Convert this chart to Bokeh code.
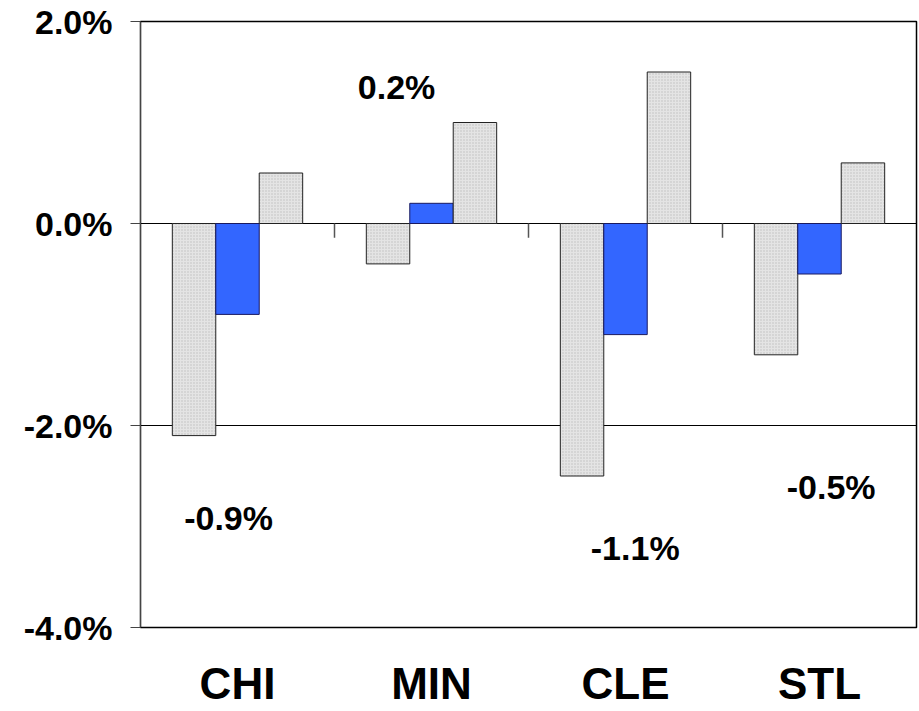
from bokeh.plotting import figure
from bokeh.models import ColumnDataSource, FixedTicker, PrintfTickFormatter, Range1d
from bokeh.core.properties import value
from bokeh.embed import file_html
from bokeh.resources import INLINE

# ---- data ----
categories = ["CHI", "MIN", "CLE", "STL"]
series_a = [-2.1, -0.4, -2.5, -1.3]   # grey hatched (left)
series_b = [-0.9, 0.2, -1.1, -0.5]    # blue (middle, labelled)
series_c = [0.5, 1.0, 1.5, 0.6]       # grey hatched (right)
y_ticks = [-4.0, -2.0, 0.0, 2.0]

# ---- layout constants (label placement, in category / value units) ----
label_x_off = [-0.046, -0.18, 0.05, 0.06]
label_y = [-2.92, 1.35, -3.21, -2.61]

FONT = "Liberation Sans"
BAR_W = 0.224

centers = [i + 0.5 for i in range(len(categories))]

p = figure(width=918, height=710, output_backend="svg", toolbar_location=None,
           x_range=Range1d(0, len(categories)), y_range=Range1d(-4, 2),
           min_border_left=140, min_border_right=2, min_border_top=21,
           min_border_bottom=80)
p.outline_line_color = "black"
p.outline_line_width = 1.5
p.background_fill_color = "white"
p.border_fill_color = "white"

grey_kw = dict(fill_color="#e4e4e4", hatch_pattern="dot", hatch_color="#bdbdbd",
               hatch_scale=3, hatch_weight=1, line_color="#222222", line_width=1)

src_a = ColumnDataSource(dict(x=[c - BAR_W for c in centers], top=series_a))
src_b = ColumnDataSource(dict(x=centers, top=series_b))
src_c = ColumnDataSource(dict(x=[c + BAR_W for c in centers], top=series_c))

p.vbar(x="x", top="top", bottom=0, width=BAR_W, source=src_a, **grey_kw)
p.vbar(x="x", top="top", bottom=0, width=BAR_W, source=src_b,
       fill_color="#3366ff", line_color="#1a1a60", line_width=1)
p.vbar(x="x", top="top", bottom=0, width=BAR_W, source=src_c, **grey_kw)

# category separator ticks below the zero line
bx = list(range(1, len(categories)))
p.segment(x0=bx, y0=[0] * len(bx), x1=bx, y1=[-0.14] * len(bx),
          line_color="#555555", line_width=1.5)

# value labels
lab = ColumnDataSource(dict(
    x=[c + o for c, o in zip(centers, label_x_off)],
    y=label_y,
    t=[f"{v:.1f}%" for v in series_b]))
p.text(x="x", y="y", text="t", source=lab, text_font=value(FONT),
       text_font_style="bold", text_font_size="34px", text_color="black",
       text_align="center", text_baseline="middle")

# grid
p.xgrid.grid_line_color = None
p.ygrid.ticker = FixedTicker(ticks=y_ticks)
p.ygrid.grid_line_color = "black"
p.ygrid.grid_line_width = 1

# y axis
p.yaxis.ticker = FixedTicker(ticks=y_ticks)
p.yaxis.formatter = PrintfTickFormatter(format="%.1f%%")
p.yaxis.major_label_text_font = FONT
p.yaxis.major_label_text_font_style = "bold"
p.yaxis.major_label_text_font_size = "34px"
p.yaxis.major_label_text_color = "black"
p.yaxis.axis_line_color = "#444444"
p.yaxis.major_tick_line_color = "#444444"
p.yaxis.major_tick_out = 10
p.yaxis.major_tick_in = 0
p.yaxis.minor_tick_line_color = None
p.yaxis.major_label_standoff = 18

# x axis
p.xaxis.ticker = FixedTicker(ticks=centers)
p.xaxis.major_label_overrides = {c: n for c, n in zip(centers, categories)}
p.xaxis.major_label_text_font = FONT
p.xaxis.major_label_text_font_style = "bold"
p.xaxis.major_label_text_font_size = "44px"
p.xaxis.major_label_text_color = "black"
p.xaxis.axis_line_color = None
p.xaxis.major_tick_line_color = None
p.xaxis.minor_tick_line_color = None
p.xaxis.major_label_standoff = 25

open("out.html", "w").write(file_html(p, INLINE))
